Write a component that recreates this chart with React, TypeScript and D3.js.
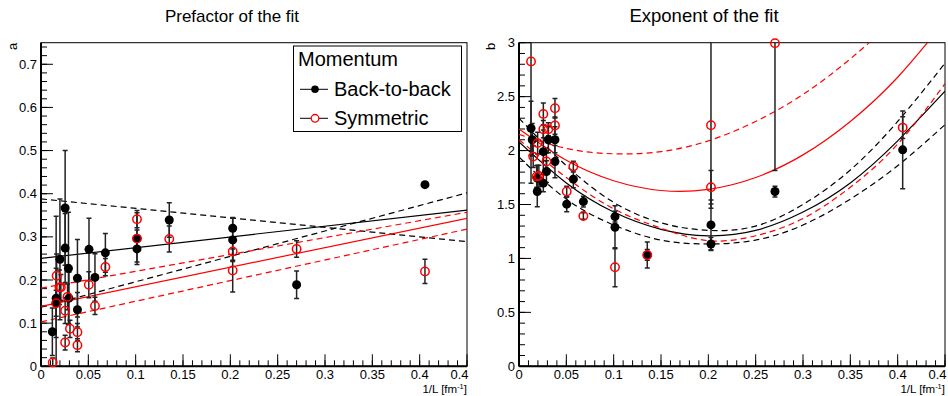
import React from 'react';
import * as d3 from 'd3';

// ---------- Left panel: prefactor a ----------
const aBackX = [0.0120, 0.0160, 0.0160, 0.0200, 0.0255, 0.0255, 0.0290, 0.0295, 0.0385, 0.0385, 0.0507, 0.0570, 0.0680, 0.1014, 0.1014, 0.1355, 0.2025, 0.2025, 0.2700, 0.4056];
const aBackY = [0.080, 0.158, 0.147, 0.248, 0.367, 0.274, 0.227, 0.158, 0.204, 0.131, 0.271, 0.206, 0.263, 0.296, 0.272, 0.339, 0.320, 0.293, 0.189, 0.421];
const aBackE = [0.055, 0.190, 0.080, 0.140, 0.133, 0.080, 0.130, 0.060, 0.090, 0.040, 0.072, 0.055, 0.045, 0.060, 0.030, 0.040, 0.025, 0.050, 0.032, 0.000];

const aSymX = [0.0124, 0.0165, 0.0160, 0.0195, 0.0210, 0.0255, 0.0255, 0.0280, 0.0306, 0.0385, 0.0385, 0.0505, 0.0570, 0.0680, 0.1014, 0.1014, 0.1355, 0.2025, 0.2025, 0.2700, 0.4056];
const aSymY = [0.009, 0.210, 0.146, 0.183, 0.183, 0.129, 0.055, 0.161, 0.087, 0.079, 0.049, 0.189, 0.140, 0.230, 0.341, 0.296, 0.295, 0.266, 0.222, 0.272, 0.220];
const aSymE = [0.010, 0.050, 0.030, 0.040, 0.030, 0.030, 0.017, 0.030, 0.020, 0.020, 0.015, 0.030, 0.020, 0.020, 0.020, 0.020, 0.030, 0.020, 0.050, 0.019, 0.028];

// fit lines (end points)
const aFitX = [0, 0.45];
const aBackFit = [0.250, 0.362];
const aBackUp = [0.388, 0.289];
const aBackLow = [0.137, 0.402];
const aSymFit = [0.139, 0.343];
const aSymUp = [0.181, 0.357];
const aSymLow = [0.103, 0.318];

// ---------- Right panel: exponent b ----------
const bBackX = [0.0127, 0.0140, 0.0193, 0.0193, 0.0257, 0.0257, 0.0290, 0.0310, 0.0380, 0.0380, 0.0504, 0.0574, 0.0680, 0.1014, 0.1014, 0.1355, 0.2028, 0.2028, 0.2704, 0.4053];
const bBackY = [2.207, 2.100, 1.744, 1.620, 1.990, 1.698, 1.805, 2.100, 2.100, 1.898, 1.503, 1.735, 1.527, 1.388, 1.289, 1.032, 1.311, 1.134, 1.620, 2.007];
const bBackE = [0.250, 0.150, 0.120, 0.140, 0.200, 0.080, 0.100, 0.120, 0.120, 0.150, 0.070, 0.080, 0.050, 0.050, 0.200, 0.120, 0.230, 0.060, 0.050, 0.360];

const bSymX = [0.0127, 0.0150, 0.0187, 0.0197, 0.0210, 0.0257, 0.0257, 0.0290, 0.0310, 0.0380, 0.0380, 0.0504, 0.0574, 0.0680, 0.1014, 0.1355, 0.2028, 0.2028, 0.2704, 0.4053];
const bSymY = [2.826, 1.944, 1.759, 2.069, 1.765, 2.340, 2.198, 1.898, 2.198, 2.393, 2.232, 1.620, 1.852, 1.394, 0.918, 1.032, 2.235, 1.660, 2.996, 2.213];
const bSymE = [1.130, 0.100, 0.100, 0.100, 0.100, 0.100, 0.080, 0.080, 0.060, 0.090, 0.080, 0.050, 0.050, 0.030, 0.180, 0.050, 0.770, 0.155, 1.180, 0.100];

// fit curves
const bCurveX = [0, 0.05, 0.1, 0.15, 0.2, 0.25, 0.3, 0.35, 0.4, 0.45];
const bBackFit = [2.08, 1.70, 1.43, 1.27, 1.21, 1.26, 1.43, 1.70, 2.09, 2.55];
const bBackUp = [2.30, 1.86, 1.52, 1.33, 1.26, 1.30, 1.50, 1.82, 2.27, 2.81];
const bBackLow = [1.94, 1.55, 1.31, 1.17, 1.134, 1.17, 1.31, 1.55, 1.86, 2.24];
const bSymFit = [2.20, 1.91, 1.72, 1.63, 1.64, 1.75, 1.96, 2.27, 2.68, 3.20];
const bSymUp = [2.15, 2.02, 1.97, 1.99, 2.09, 2.27, 2.52, 2.85, 3.25, 3.72];
const bSymLow = [2.10, 1.75, 1.46, 1.28, 1.165, 1.21, 1.37, 1.66, 2.06, 2.62];

// x tick values and the labels as they appear (last one truncated to "0.4" at the pad edge)
const xTickVals = [0, 0.05, 0.1, 0.15, 0.2, 0.25, 0.3, 0.35, 0.4, 0.45];
const xTickLabels = ['0', '0.05', '0.1', '0.15', '0.2', '0.25', '0.3', '0.35', '0.4', '0.4'];

const FONT = '"Liberation Sans", Arial, Helvetica, sans-serif';
const TOP = 42.7;
const BOTTOM = 366.3;

type Series = { x: number[]; y: number[]; e: number[]; filled: boolean; color: string };
type Curve = { x: number[]; y: number[]; color: string; dashed: boolean; smooth: boolean };

interface PanelProps {
  id: string;
  fx0: number;
  fx1: number;
  title: string;
  titleX: number;
  titleSize: number;
  yLabel: string;
  yMax: number;
  yMajor: number;
  yMinor: number;
  series: Series[];
  curves: Curve[];
  legend?: boolean;
}

const fmt = (v: number) => String(+v.toFixed(2));

function Panel(p: PanelProps) {
  const x = d3.scaleLinear().domain([0, 0.45]).range([p.fx0, p.fx1]);
  const y = d3.scaleLinear().domain([0, p.yMax]).range([BOTTOM, TOP]);
  const xMinor = d3.range(0, 0.45 + 1e-9, 0.01);
  const yMaj = d3.range(0, p.yMax + 1e-9, p.yMajor);
  const yMin = d3.range(0, p.yMax + 1e-9, p.yMinor);
  const clip = `clip-${p.id}`;
  const last = xTickVals.length - 1;
  return (
    <g>
      <defs>
        <clipPath id={clip}>
          <rect x={p.fx0} y={TOP} width={p.fx1 - p.fx0} height={BOTTOM - TOP} />
        </clipPath>
      </defs>
      <text x={p.titleX} y={22} textAnchor="middle" fontSize={p.titleSize} fontFamily={FONT} fill="#000">
        {p.title}
      </text>
      {/* frame */}
      <rect x={p.fx0} y={TOP} width={p.fx1 - p.fx0} height={BOTTOM - TOP} fill="none" stroke="#000" strokeWidth={1} />
      <line x1={p.fx0} x2={p.fx0} y1={TOP} y2={BOTTOM} stroke="#000" strokeWidth={2} />
      <line x1={p.fx0} x2={p.fx1} y1={BOTTOM} y2={BOTTOM} stroke="#000" strokeWidth={2} />
      {/* x ticks */}
      {xMinor.map((v, i) => (
        <line key={'xm' + i} x1={x(v)} x2={x(v)} y1={BOTTOM} y2={BOTTOM - 6} stroke="#000" strokeWidth={1} />
      ))}
      {xTickVals.map((v, i) => (
        <line key={'xM' + i} x1={x(v)} x2={x(v)} y1={BOTTOM} y2={BOTTOM - 12} stroke="#000" strokeWidth={1} />
      ))}
      {xTickVals.map((v, i) =>
        i === last ? (
          <text key={'xl' + i} x={x(v) + 1.5} y={378.5} textAnchor="end" fontSize={13} fontFamily={FONT} fill="#000">
            {xTickLabels[i]}
          </text>
        ) : (
          <text key={'xl' + i} x={x(v)} y={378.5} textAnchor="middle" fontSize={13} fontFamily={FONT} fill="#000">
            {xTickLabels[i]}
          </text>
        )
      )}
      {/* y ticks */}
      {yMin.map((v, i) => (
        <line key={'ym' + i} x1={p.fx0} x2={p.fx0 + 6} y1={y(v)} y2={y(v)} stroke="#000" strokeWidth={1} />
      ))}
      {yMaj.map((v, i) => (
        <line key={'yM' + i} x1={p.fx0} x2={p.fx0 + 12} y1={y(v)} y2={y(v)} stroke="#000" strokeWidth={1} />
      ))}
      {yMaj.map((v, i) => (
        <text key={'yl' + i} x={p.fx0 - 4} y={y(v) + 4.5} textAnchor="end" fontSize={13} fontFamily={FONT} fill="#000">
          {fmt(v)}
        </text>
      ))}
      {/* axis titles */}
      <text x={p.fx1} y={393} textAnchor="end" fontSize={11.5} fontFamily={FONT} fill="#000">
        1/L [fm<tspan dy={-4} fontSize={7.5}>-1</tspan>
        <tspan dy={4}>]</tspan>
      </text>
      <text
        transform={`translate(${p.fx0 - 24},${TOP}) rotate(-90)`}
        textAnchor="end"
        fontSize={13}
        fontFamily={FONT}
        fill="#000"
      >
        {p.yLabel}
      </text>
      {/* curves */}
      <g clipPath={`url(#${clip})`}>
        {p.curves.map((c, i) => {
          const pts = c.x.map((xv, j) => [xv, c.y[j]] as [number, number]);
          const gen = d3
            .line<[number, number]>()
            .x((d) => x(d[0]))
            .y((d) => y(d[1]))
            .curve(c.smooth ? d3.curveNatural : d3.curveLinear);
          return (
            <path
              key={'c' + i}
              d={gen(pts) || ''}
              fill="none"
              stroke={c.color}
              strokeWidth={1.2}
              strokeDasharray={c.dashed ? '6 4' : undefined}
            />
          );
        })}
        {/* error bars */}
        {p.series.map((s, si) =>
          s.x.map((xv, j) =>
            s.e[j] > 0 ? (
              <g key={`e${si}-${j}`} stroke="#222" strokeWidth={1.5}>
                <line x1={x(xv)} x2={x(xv)} y1={y(s.y[j] + s.e[j])} y2={y(s.y[j] - s.e[j])} />
                <line x1={x(xv) - 2.5} x2={x(xv) + 2.5} y1={y(s.y[j] + s.e[j])} y2={y(s.y[j] + s.e[j])} />
                <line x1={x(xv) - 2.5} x2={x(xv) + 2.5} y1={y(s.y[j] - s.e[j])} y2={y(s.y[j] - s.e[j])} />
              </g>
            ) : null
          )
        )}
      </g>
      {/* markers */}
      {p.series.map((s, si) =>
        s.x.map((xv, j) =>
          s.filled ? (
            <circle key={`m${si}-${j}`} cx={x(xv)} cy={y(s.y[j])} r={4.5} fill={s.color} />
          ) : (
            <circle key={`m${si}-${j}`} cx={x(xv)} cy={y(s.y[j])} r={4.2} fill="none" stroke={s.color} strokeWidth={1.5} />
          )
        )
      )}
      {p.legend && (
        <g>
          <rect x={293.5} y={46} width={168} height={85.5} fill="#fff" stroke="#000" strokeWidth={1} />
          <text x={298} y={66} fontSize={20} fontFamily={FONT} fill="#000">Momentum</text>
          <line x1={300} x2={328} y1={89.3} y2={89.3} stroke="#000" strokeWidth={1} />
          <circle cx={315} cy={89.3} r={3.8} fill="#000" />
          <text x={334} y={96} fontSize={20} fontFamily={FONT} fill="#000">Back-to-back</text>
          <line x1={300} x2={328} y1={118.3} y2={118.3} stroke="#000" strokeWidth={1} />
          <circle cx={315} cy={118.3} r={3.8} fill="#fff" stroke="#f00" strokeWidth={1.3} />
          <text x={334} y={125} fontSize={20} fontFamily={FONT} fill="#000">Symmetric</text>
        </g>
      )}
    </g>
  );
}

const RED = '#ff0000';

export default function App() {
  const leftSeries: Series[] = [
    { x: aBackX, y: aBackY, e: aBackE, filled: true, color: '#000' },
    { x: aSymX, y: aSymY, e: aSymE, filled: false, color: RED },
  ];
  const leftCurves: Curve[] = [
    { x: aFitX, y: aBackFit, color: '#000', dashed: false, smooth: false },
    { x: aFitX, y: aBackUp, color: '#000', dashed: true, smooth: false },
    { x: aFitX, y: aBackLow, color: '#000', dashed: true, smooth: false },
    { x: aFitX, y: aSymFit, color: RED, dashed: false, smooth: false },
    { x: aFitX, y: aSymUp, color: RED, dashed: true, smooth: false },
    { x: aFitX, y: aSymLow, color: RED, dashed: true, smooth: false },
  ];
  const rightSeries: Series[] = [
    { x: bBackX, y: bBackY, e: bBackE, filled: true, color: '#000' },
    { x: bSymX, y: bSymY, e: bSymE, filled: false, color: RED },
  ];
  const rightCurves: Curve[] = [
    { x: bCurveX, y: bBackFit, color: '#000', dashed: false, smooth: true },
    { x: bCurveX, y: bBackUp, color: '#000', dashed: true, smooth: true },
    { x: bCurveX, y: bBackLow, color: '#000', dashed: true, smooth: true },
    { x: bCurveX, y: bSymFit, color: RED, dashed: false, smooth: true },
    { x: bCurveX, y: bSymUp, color: RED, dashed: true, smooth: true },
    { x: bCurveX, y: bSymLow, color: RED, dashed: true, smooth: true },
  ];
  return (
    <div style={{ position: 'fixed', left: 0, top: 0, width: 948, height: 396, background: '#fff' }}>
      <svg width={948} height={396} viewBox="0 0 948 396" style={{ display: 'block' }}>
        <rect width={948} height={396} fill="#fff" />
        <Panel
          id="L"
          fx0={41}
          fx1={467}
          title="Prefactor of the fit"
          titleX={232}
          titleSize={17}
          yLabel="a"
          yMax={0.75}
          yMajor={0.1}
          yMinor={0.02}
          series={leftSeries}
          curves={leftCurves}
          legend
        />
        <Panel
          id="R"
          fx0={519}
          fx1={945}
          title="Exponent of the fit"
          titleX={704}
          titleSize={18.5}
          yLabel="b"
          yMax={3}
          yMajor={0.5}
          yMinor={0.1}
          series={rightSeries}
          curves={rightCurves}
        />
      </svg>
    </div>
  );
}
